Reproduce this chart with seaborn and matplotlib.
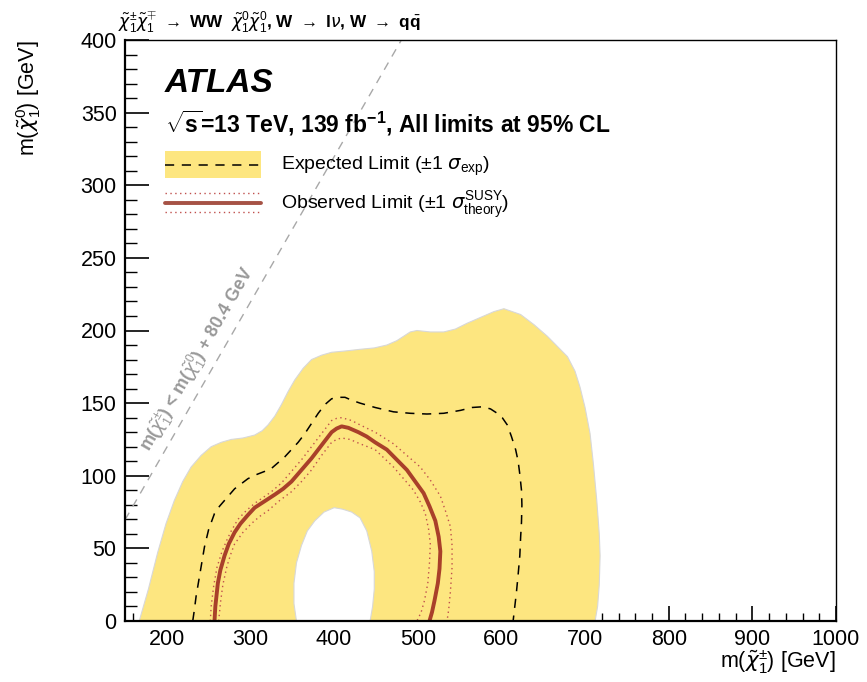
import numpy as np
import matplotlib
matplotlib.use("Agg")
import matplotlib.pyplot as plt
import seaborn as sns
from matplotlib.ticker import MultipleLocator
from matplotlib.lines import Line2D
from matplotlib.patches import Rectangle

# --- data (GeV) ---
# outer edge of the +/-1 sigma expected band
band_x = [167, 178, 189, 199, 209, 219, 229, 241, 253, 265, 277, 291, 305, 314, 321, 329, 337, 345,
          353, 363, 373, 385, 397, 415, 430, 448, 463, 475, 483, 491, 499, 515, 531, 545, 559, 575,
          591, 603, 613, 623, 639, 655, 667, 679, 688, 694, 700, 706, 710, 714, 717, 718, 717, 715, 712]
band_y = [0, 22, 47, 67, 83, 96, 106, 114, 120, 123, 125, 126, 128, 131, 135, 141, 149, 158,
          166, 174, 180, 183, 185, 186, 187, 188, 190, 193, 196, 199, 200, 199, 199, 201, 205, 209,
          213, 215, 213, 211, 204, 196, 189, 182, 172, 161, 147, 129, 108, 83, 60, 45, 25, 10, 0]
# hole in the band (not excluded even at -1 sigma)
hole_x = [355, 352, 352, 355, 361, 368, 377, 388, 400, 410, 421, 431, 439, 445, 448, 448, 446, 443]
hole_y = [0, 12, 26, 40, 52, 62, 69, 75, 78, 77, 75, 71, 62, 48, 34, 22, 10, 0]

exp_x = [231, 233, 235, 240, 245, 250, 257, 263, 269, 281, 297, 308, 317, 325, 333, 341, 349, 357,
         365, 373, 381, 389, 397, 405, 413, 421, 431, 449, 471, 491, 511, 531, 551, 565, 578, 587,
         595, 601, 607, 612, 617, 620, 622, 624, 624.5, 624, 623, 622, 620, 618, 616, 614]
exp_y = [0, 8, 17, 34, 51, 63, 74, 79, 83, 91, 98, 101, 103, 105, 109, 113, 118, 123,
         129, 136, 143, 149, 153, 154, 154, 152, 150, 147, 144, 143, 142.5, 143, 145, 147, 147.5, 146,
         143, 140, 135, 127, 118, 110, 101, 90, 80, 68, 58, 45, 32, 20, 10, 0]

obs_x = [257, 258, 261, 264, 269, 274, 281, 288, 297, 305, 313, 321, 329, 339, 349, 361, 373, 385,
         397, 403, 409, 417, 429, 439, 449, 463, 475, 487, 497, 507, 514, 521, 525, 527, 526, 524,
         520, 517, 514]
obs_y = [0, 10, 26, 35, 45, 53, 61, 67, 73, 78, 81, 84, 87, 91, 96, 104, 112, 121,
         130, 132.5, 134, 133, 130, 127, 123, 118, 111, 104, 96, 88, 79, 69, 58, 48, 36, 26,
         14, 6, 0]

obs_up_x = [252, 253, 256, 260, 266, 272, 277, 285, 295, 305, 315, 325, 337, 349, 361, 373, 385, 397,
            403, 409, 421, 431, 449, 471, 487, 503, 515, 527, 533, 539, 541, 541, 539, 537, 535]
obs_up_y = [0, 10, 24, 37, 48, 56, 62, 70, 76, 81, 85, 89, 95, 103, 111, 120, 129, 138,
            139.5, 140, 138, 135, 130, 122, 114, 106, 97, 86, 76, 65, 52, 37, 20, 8, 0]

obs_dn_x = [262, 264, 267, 272, 277, 281, 291, 301, 311, 321, 335, 349, 361, 373, 385, 397, 403, 409,
            419, 431, 449, 471, 483, 495, 503, 509, 513, 515, 514, 512, 508, 504, 499]
obs_dn_y = [0, 12, 25, 38, 47, 53, 61, 67, 72, 76, 83, 89, 96, 104, 114, 123, 125, 126,
            125, 122, 118, 106, 98, 90, 82, 74, 63, 53, 40, 26, 14, 6, 0]

w_mass = 80.4
diag_x = np.array([150.0, 500.0])

x_range = (150, 1000)
y_range = (0, 400)

yellow = "#fde680"
obs_col = "#a9402a"
dot_col = "#c0504d"

sns.set_style("ticks")
plt.rcParams.update({
    "font.family": ["Liberation Sans", "DejaVu Sans"],
    "mathtext.fontset": "custom",
    "mathtext.rm": "Liberation Sans",
    "mathtext.it": "DejaVu Sans:italic",
    "mathtext.bf": "Liberation Sans:bold",
    "mathtext.sf": "Liberation Sans",
    "text.color": "black",
    "axes.labelcolor": "black",
    "axes.edgecolor": "black",
    "xtick.color": "black",
    "ytick.color": "black",
})

fig = plt.figure(figsize=(8.67, 6.82), dpi=100)
ax = fig.add_axes([125 / 867, 61 / 682, 711 / 867, 581 / 682])

ax.fill(band_x, band_y, facecolor=yellow, edgecolor="#d8d8d8", lw=0.8, zorder=1)
ax.fill(hole_x, hole_y, facecolor="white", edgecolor="#d8d8d8", lw=0.8, zorder=1.1)

sns.lineplot(x=exp_x, y=exp_y, sort=False, estimator=None, ax=ax, color="black",
             lw=1.1, linestyle=(0, (6, 5)), zorder=3)
sns.lineplot(x=obs_up_x, y=obs_up_y, sort=False, estimator=None, ax=ax, color=dot_col,
             lw=1.0, linestyle=(0, (1, 2.5)), zorder=3)
sns.lineplot(x=obs_dn_x, y=obs_dn_y, sort=False, estimator=None, ax=ax, color=dot_col,
             lw=1.0, linestyle=(0, (1, 2.5)), zorder=3)
sns.lineplot(x=obs_x, y=obs_y, sort=False, estimator=None, ax=ax, color=obs_col,
             lw=2.8, zorder=4)

# kinematic limit
ax.plot(diag_x, diag_x - w_mass, color="#a8a8a8", lw=1.0, linestyle=(0, (6, 5)), zorder=2)
ax.text(237, 180, r"m($\tilde{\chi}^{\pm}_{1}$) < m($\tilde{\chi}^{0}_{1}$) + 80.4 GeV",
        rotation=60, rotation_mode="anchor", ha="center", va="center",
        color="#999999", fontsize=12.8, fontweight="bold", zorder=2)

ax.set_xlim(*x_range)
ax.set_ylim(*y_range)
ax.xaxis.set_major_locator(MultipleLocator(100))
ax.xaxis.set_minor_locator(MultipleLocator(20))
ax.yaxis.set_major_locator(MultipleLocator(50))
ax.yaxis.set_minor_locator(MultipleLocator(10))
ax.tick_params(axis="x", which="major", direction="in", length=11, width=1.2, labelsize=15.5, pad=6)
ax.tick_params(axis="x", which="minor", direction="in", length=5.5, width=1.0)
ax.tick_params(axis="y", which="major", direction="in", length=17, width=1.2, labelsize=15.5, pad=6)
ax.tick_params(axis="y", which="minor", direction="in", length=8.5, width=1.0)
for s in ["left", "bottom"]:
    ax.spines[s].set_linewidth(1.6)
for s in ["top", "right"]:
    ax.spines[s].set_linewidth(1.0)
for s in ax.spines.values():
    s.set_zorder(5)

ax.set_xlabel(r"m($\tilde{\chi}^{\pm}_{1}$) [GeV]", fontsize=15.5, ha="right")
ax.xaxis.set_label_coords(1.0, -0.048)
ax.set_ylabel(r"m($\tilde{\chi}^{0}_{1}$) [GeV]", fontsize=15.5, ha="right")
ax.yaxis.set_label_coords(-0.115, 1.0)

# header
fig.text(118 / 867, 1 - 27 / 682,
         r"$\tilde{\chi}^{\pm}_{1}\tilde{\chi}^{\mp}_{1}$ $\rightarrow$ WW  "
         r"$\tilde{\chi}^{0}_{1}\tilde{\chi}^{0}_{1}$, W $\rightarrow$ l$\nu$, W $\rightarrow$ q$\bar{\mathbf{q}}$",
         fontsize=12.3, fontweight="bold", ha="left", va="baseline")

fig.text(165 / 867, 1 - 83 / 682, "ATLAS", fontsize=24, fontweight="bold",
         fontstyle="italic", ha="left", va="center")
fig.text(165 / 867, 1 - 123 / 682,
         r"$\mathbf{\sqrt{s}}$=13 TeV, 139 fb$^{\mathbf{-1}}$, All limits at 95% CL",
         fontsize=16.5, fontweight="bold", ha="left", va="center")

# legend, drawn by hand in figure pixels
def fx(px):
    return px / 867

def fy(py):
    return 1 - py / 682

fig.add_artist(Rectangle((fx(165), fy(178)), fx(261) - fx(165), fy(151) - fy(178),
                         transform=fig.transFigure, facecolor=yellow, edgecolor="none"))
fig.add_artist(Line2D([fx(165), fx(261)], [fy(164.5)] * 2, transform=fig.transFigure,
                      color="black", lw=1.1, linestyle=(0, (6, 5))))
for py in (193, 212):
    fig.add_artist(Line2D([fx(165), fx(261)], [fy(py)] * 2, transform=fig.transFigure,
                          color=dot_col, lw=1.0, linestyle=(0, (1, 2.5))))
fig.add_artist(Line2D([fx(165), fx(261)], [fy(202.5)] * 2, transform=fig.transFigure,
                      color="#a65245", lw=2.8))
fig.text(fx(281), fy(166), r"Expected Limit ($\pm$1 $\sigma_{\rm exp}$)", fontsize=14,
         ha="left", va="center")
fig.text(fx(281), fy(205), r"Observed Limit ($\pm$1 $\sigma^{\rm SUSY}_{\rm theory}$)", fontsize=14,
         ha="left", va="center")

fig.savefig("out.png", dpi=100)
